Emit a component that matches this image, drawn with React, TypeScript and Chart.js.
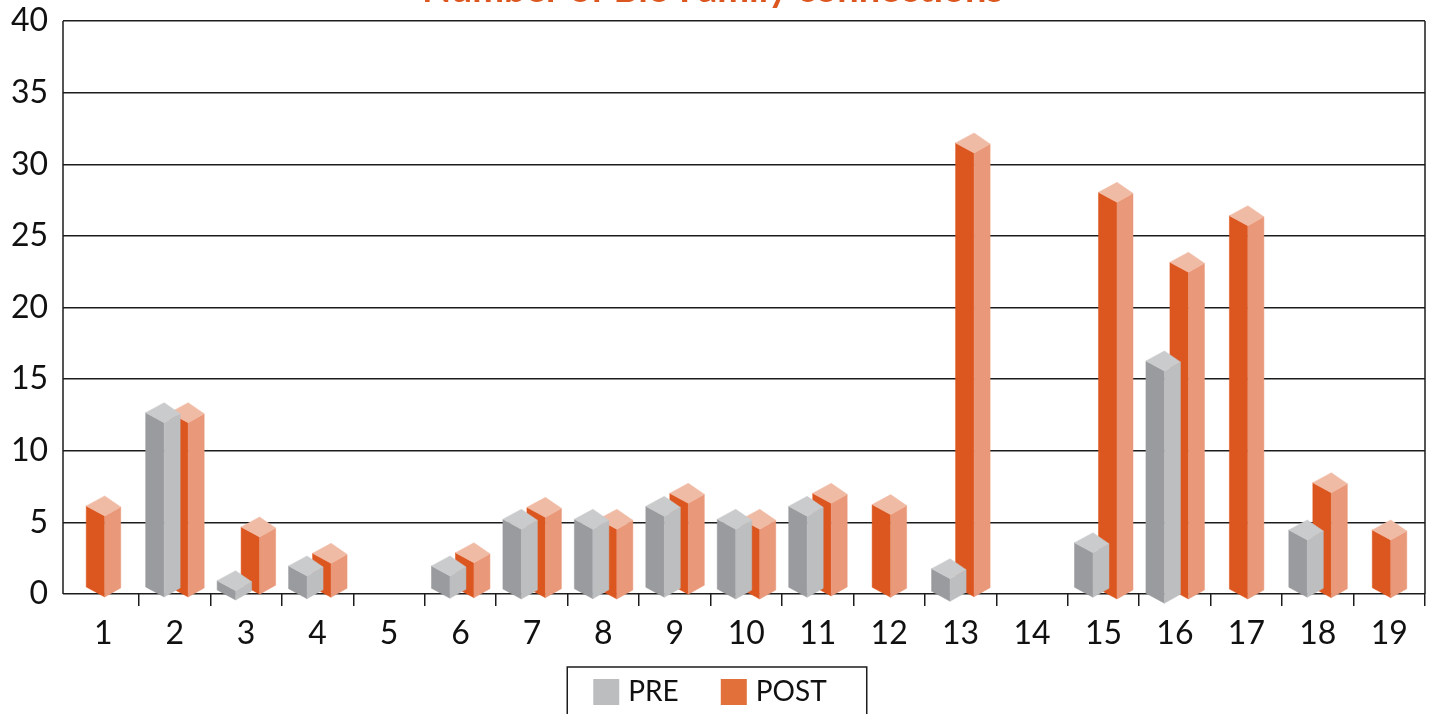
import React, { useEffect, useRef } from "react";
import { Chart, registerables } from "chart.js";

Chart.register(...registerables);

const categories = ["1","2","3","4","5","6","7","8","9","10","11","12","13","14","15","16","17","18","19"];
const preTops = [null,12.66,0.93,1.96,null,1.96,5.22,5.22,6.12,5.22,6.12,null,1.77,null,3.58,16.27,null,4.47,null];
const preFloors = [null,0.49,0.28,0.37,null,0.40,0.35,0.37,0.47,0.35,0.47,null,0.19,null,0.47,0,null,0.47,null];
const postTops = [6.15,12.66,4.68,2.84,null,2.88,6.05,5.22,7.03,5.22,7.03,6.24,31.49,null,28.04,23.16,26.41,7.77,4.47];
const postFloors = [0.49,0.49,0.68,0.47,null,0.44,0.44,0.35,0.68,0.35,0.56,0.47,0.51,null,0.35,0.35,0.35,0.44,0.44];
const titleText = "Number of Bio Family connections";
const FONT = "Lato, 'Open Sans', sans-serif";
const INK = "#1c1c1c";

const palettes = [
  { left: "#9a9b9e", right: "#bcbec0", top: "#c9cbcc" },
  { left: "#dc561f", right: "#e9987a", top: "#f0bba5" },
];

const floating = (tops: (number | null)[], floors: (number | null)[]) =>
  tops.map((t, i) => (t == null ? null : [floors[i] as number, t]));

function poly(ctx: CanvasRenderingContext2D, color: string, pts: number[][]) {
  ctx.fillStyle = color;
  ctx.strokeStyle = color;
  ctx.lineWidth = 0.5;
  ctx.beginPath();
  pts.forEach(([x, y], i) => (i ? ctx.lineTo(x, y) : ctx.moveTo(x, y)));
  ctx.closePath();
  ctx.fill();
  ctx.stroke();
}

const bars3d = {
  id: "bars3d",
  // tick labels sit below the scale box here; widen the box they are clipped to
  afterLayout(chart: any) {
    const s = chart.scales.x;
    s.bottom = s.top + 70;
  },
  beforeDatasetsDraw(chart: any) {
    const ctx = chart.ctx;
    const a = chart.chartArea;
    const frameLeft = a.left - 4.5;
    ctx.save();
    ctx.strokeStyle = INK;
    ctx.lineWidth = 1.5;
    ctx.beginPath();
    ctx.moveTo(frameLeft, a.top);
    ctx.lineTo(frameLeft, a.bottom);
    ctx.moveTo(a.right, a.top);
    ctx.lineTo(a.right, a.bottom);
    ctx.stroke();
    const hl = 18.5, hr = 16, sag = 10, skew = 1, shift = 1.5;
    // POST behind PRE
    [1, 0].forEach((di) => {
      const p = palettes[di];
      chart.getDatasetMeta(di).data.forEach((el: any, i: number) => {
        if (chart.data.datasets[di].data[i] == null) return;
        const props = el.getProps(["x", "y", "base"], true);
        const x = props.x + shift, y = props.y, base = props.base;
        poly(ctx, p.left, [[x - hl, y], [x, y + sag], [x, base + sag], [x - hl, base]]);
        poly(ctx, p.right, [[x, y + sag], [x + hr, y + skew], [x + hr, base + skew], [x, base + sag]]);
        poly(ctx, p.top, [[x - hl, y], [x, y - sag], [x + hr, y + skew], [x, y + sag]]);
      });
    });
    ctx.restore();
    return false;
  },
};

const legendFrame = {
  id: "legendFrame",
  afterDraw(chart: any) {
    const hb = chart.legend?.legendHitBoxes;
    if (!hb?.length) return;
    const ctx = chart.ctx;
    const l = hb[0].left - 31;
    const r = hb[1].left + hb[1].width + 40;
    const t = hb[0].top - 11;
    ctx.save();
    ctx.strokeStyle = INK;
    ctx.lineWidth = 1.5;
    ctx.strokeRect(l, t, r - l, 120);
    ctx.restore();
  },
};

export default function App() {
  const ref = useRef<HTMLCanvasElement>(null);
  useEffect(() => {
    const chart = new Chart(ref.current as HTMLCanvasElement, {
      type: "bar",
      data: {
        labels: categories,
        datasets: [
          { label: "PRE", data: floating(preTops, preFloors) as any, backgroundColor: "#bcbdbf", skipNull: true, categoryPercentage: 0.672, barPercentage: 1 },
          { label: "POST", data: floating(postTops, postFloors) as any, backgroundColor: "#e2703b", skipNull: true, categoryPercentage: 0.672, barPercentage: 1 },
        ],
      },
      options: {
        responsive: false,
        animation: false,
        devicePixelRatio: 1,
        layout: { padding: { left: 0, right: 8, top: 0, bottom: 0 } },
        plugins: {
          tooltip: { enabled: false },
          title: {
            display: true,
            text: titleText,
            color: "#dc561f",
            font: { family: FONT, size: 38, weight: "bold" },
            padding: { top: 7.3, bottom: 8.1 },
          },
          legend: {
            position: "bottom",
            labels: {
              boxWidth: 16,
              boxHeight: 16,
              padding: 47,
              color: "#111111",
              font: { family: FONT, size: 28 },
              generateLabels: (c: any) =>
                c.data.datasets.map((d: any, i: number) => ({
                  text: d.label,
                  fillStyle: d.backgroundColor,
                  strokeStyle: d.backgroundColor,
                  lineWidth: 10,
                  hidden: false,
                  datasetIndex: i,
                  fontColor: "#111111",
                })),
            },
          },
        },
        scales: {
          x: {
            afterFit: (s: any) => { s.height = 37; },
            border: { display: false },
            grid: {
              drawOnChartArea: false,
              tickLength: 12,
              lineWidth: 1.5,
              tickColor: (c: any) => (c.index === 0 || c.index === categories.length ? "rgba(0,0,0,0)" : INK),
            },
            ticks: { maxRotation: 0, color: "#111111", padding: 8, font: { family: FONT, size: 32 } },
          },
          y: {
            min: 0,
            max: 40,
            afterFit: (s: any) => { s.width = 67.5; },
            border: { display: false },
            grid: { color: INK, lineWidth: 1.5, tickLength: 4.5 },
            ticks: { stepSize: 5, color: "#111111", padding: 15, font: { family: FONT, size: 32 } },
          },
        },
      } as any,
      plugins: [bars3d, legendFrame],
    });
    return () => chart.destroy();
  }, []);
  return (
    <div style={{ position: "fixed", inset: 0, overflow: "hidden", background: "#fff" }}>
      <canvas ref={ref} width={1433} height={756} style={{ position: "absolute", left: 0, top: -40, display: "block" }} />
    </div>
  );
}
